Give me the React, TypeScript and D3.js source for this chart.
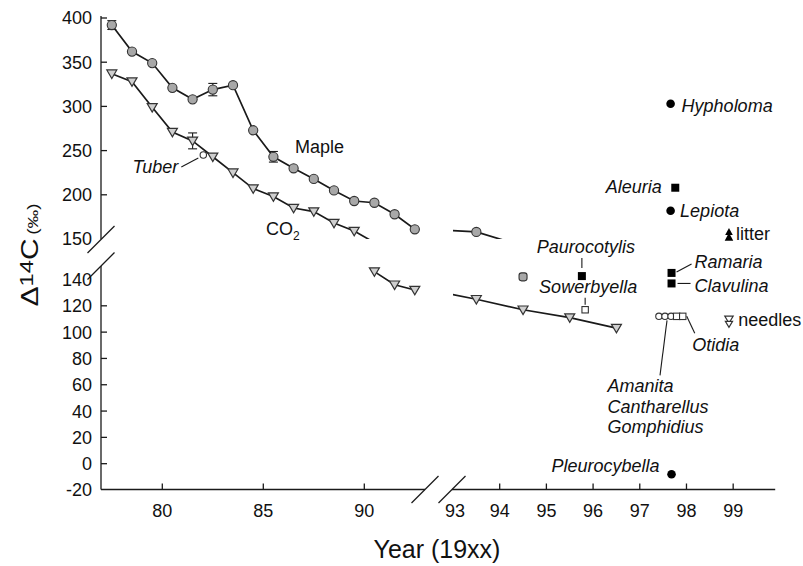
import React from 'react';
import * as d3 from 'd3';

// ---------- DATA ----------
const mapleYears = [77.5, 78.5, 79.5, 80.5, 81.5, 82.5, 83.5, 84.5, 85.5, 86.5, 87.5, 88.5, 89.5, 90.5, 91.5, 92.5, 93.5, 94.5];
const mapleValues = [392, 362, 349, 321, 308, 319, 324, 273, 243, 230, 218, 205, 193, 191, 178, 161, 158, 142];
const mapleErrors = [5, 0, 0, 0, 0, 7, 0, 0, 6, 0, 0, 0, 0, 0, 0, 0, 0, 0];

const co2Years = [77.5, 78.5, 79.5, 80.5, 81.5, 82.5, 83.5, 84.5, 85.5, 86.5, 87.5, 88.5, 89.5, 90.5, 91.5, 92.5, 93.5, 94.5, 95.5, 96.5];
const co2Values = [337, 328, 299, 271, 261, 243, 225, 207, 198, 185, 181, 168, 159, 146, 136, 132, 125, 117, 111, 103];
const co2Errors = [0, 0, 0, 0, 9, 0, 0, 0, 0, 0, 0, 0, 0, 0, 0, 0, 0, 0, 0, 0];

const specimenNames = ['Hypholoma', 'Aleuria', 'Lepiota', 'litter', 'Paurocotylis', 'Sowerbyella', 'Ramaria', 'Clavulina', 'Amanita', 'Cantharellus', 'Gomphidius', 'Otidia', 'Otidia2', 'needles', 'Pleurocybella', 'Tuber'];
const specimenYears = [97.66, 97.76, 97.66, 98.91, 95.76, 95.83, 97.68, 97.68, 97.41, 97.54, 97.67, 97.79, 97.92, 98.91, 97.68, 82.03];
const specimenValues = [303, 208, 182, 155, 142.6, 117, 145, 137, 112, 112, 112, 112, 112, 108, -8, 245];
const specimenKinds = ['dot', 'square', 'dot', 'litter', 'square', 'openSquare', 'square', 'square', 'openCircle', 'openCircle', 'openCircle', 'openSquare', 'openSquare', 'needles', 'dot', 'openCircle'];

const yTicksUpper = [150, 200, 250, 300, 350, 400];
const yTicksLower = [-20, 0, 20, 40, 60, 80, 100, 120, 140];
const xTicksLeft = [80, 85, 90];
const xTicksRight = [93, 94, 95, 96, 97, 98, 99];

// ---------- LAYOUT ----------
const W = 803, H = 566;
const FONT = "'Liberation Sans', Arial, Helvetica, sans-serif";
const X_BREAK = 93;
const Y_SPLIT = 148;

const xL = d3.scaleLinear().domain([77, 93]).range([101.7, 424.9]);
const xR = d3.scaleLinear().domain([93, 99.9]).range([453, 775.2]);
const yU = d3.scaleLinear().domain([150, 400]).range([239, 18]);
const yLo = d3.scaleLinear().domain([-20, 140]).range([490, 279.5]);

const px = (yr: number) => (yr < X_BREAK ? xL(yr) : xR(yr));
const py = (v: number) => (v >= Y_SPLIT ? yU(v) : yLo(v));

type Pt = { year: number; value: number; err: number };
const maple: Pt[] = mapleYears.map((y, i) => ({ year: y, value: mapleValues[i], err: mapleErrors[i] }));
const co2: Pt[] = co2Years.map((y, i) => ({ year: y, value: co2Values[i], err: co2Errors[i] }));

const AX = 101; // y axis x
const AY = 489.5; // x axis y

const panels = [
  { id: 'UL', x: xL, y: yU, clip: { x0: 95, x1: xL(92.5) + 1, y0: 0, y1: yU(150) } },
  { id: 'UR', x: xR, y: yU, clip: { x0: xR(93), x1: 800, y0: 0, y1: yU(150) } },
  { id: 'LL', x: xL, y: yLo, clip: { x0: 95, x1: xL(92.5) + 1, y0: yLo(147), y1: 500 } },
  { id: 'LR', x: xR, y: yLo, clip: { x0: xR(93), x1: 800, y0: yLo(147), y1: 500 } },
];

// label layout relative to specimen markers
const labels = [
  { ref: 'Hypholoma', text: 'Hypholoma', dx: 11, dy: 8, anchor: 'start', italic: true },
  { ref: 'Aleuria', text: 'Aleuria', dx: -13.5, dy: 5.6, anchor: 'end', italic: true },
  { ref: 'Lepiota', text: 'Lepiota', dx: 9.5, dy: 6, anchor: 'start', italic: true },
  { ref: 'litter', text: 'litter', dx: 7, dy: 5.5, anchor: 'start', italic: false },
  { ref: 'Paurocotylis', text: 'Paurocotylis', dx: 4, dy: -23, anchor: 'middle', italic: true, leader: [0, -18, 0, -8] },
  { ref: 'Sowerbyella', text: 'Sowerbyella', dx: 3, dy: -16.5, anchor: 'middle', italic: true, leader: [0, -12, 0, -5] },
  { ref: 'Ramaria', text: 'Ramaria', dx: 23, dy: -5, anchor: 'start', italic: true, leader: [5, -1, 20, -9] },
  { ref: 'Clavulina', text: 'Clavulina', dx: 23, dy: 8.3, anchor: 'start', italic: true, leader: [6, 0, 19, 0] },
  { ref: 'Cantharellus', text: 'Amanita', dx: -57.5, dy: 75.3, anchor: 'start', italic: true, leader: [2, 4, -5, 59] },
  { ref: 'Cantharellus', text: 'Cantharellus', dx: -57.5, dy: 96.9, anchor: 'start', italic: true },
  { ref: 'Cantharellus', text: 'Gomphidius', dx: -57.5, dy: 116.9, anchor: 'start', italic: true },
  { ref: 'Otidia2', text: 'Otidia', dx: 9.4, dy: 34.6, anchor: 'start', italic: true, leader: [4, 0, 12, 17] },
  { ref: 'needles', text: 'needles', dx: 9.3, dy: 4.5, anchor: 'start', italic: false },
  { ref: 'Pleurocybella', text: 'Pleurocybella', dx: -12, dy: -2.5, anchor: 'end', italic: true },
  { ref: 'Tuber', text: 'Tuber', dx: -25, dy: 18.3, anchor: 'end', italic: true, leader: [-22, 12, -5, 3] },
];

const TEXT = '#111';
const LINE = '#1a1a1a';
const CIRCLE_FILL = '#a8a8a8';
const TRI_FILL = '#cfcfcf';
const MARK_STROKE = '#333';

function triDown(cx: number, cy: number, s = 5) {
  return `M${cx - s},${cy - s * 0.75}L${cx + s},${cy - s * 0.75}L${cx},${cy + s * 0.95}Z`;
}
function triUp(cx: number, cy: number, s = 4) {
  return `M${cx - s},${cy + s * 0.8}L${cx + s},${cy + s * 0.8}L${cx},${cy - s * 1.1}Z`;
}

function Specimen({ kind, x, y }: { kind: string; x: number; y: number }) {
  switch (kind) {
    case 'dot':
      return <circle cx={x} cy={y} r={4.3} fill="#000" />;
    case 'square':
      return <rect x={x - 4} y={y - 4} width={8} height={8} fill="#000" />;
    case 'openSquare':
      return <rect x={x - 3.2} y={y - 3.2} width={6.4} height={6.4} fill="#fff" stroke="#333" strokeWidth={1.1} />;
    case 'openCircle':
      return <circle cx={x} cy={y} r={3.2} fill="#fff" stroke="#333" strokeWidth={1.1} />;
    case 'litter':
      return (
        <g fill="#000">
          <path d={triUp(x, y - 2.5, 3.8)} />
          <path d={triUp(x, y + 2.8, 4.3)} />
        </g>
      );
    case 'needles':
      return (
        <g fill="#fff" stroke="#333" strokeWidth={1.2}>
          <path d={triDown(x, y - 2.4, 4.2)} />
          <path d={triDown(x, y + 2.4, 3.6)} />
        </g>
      );
    default:
      return null;
  }
}

export default function App() {
  const lineGen = (p: typeof panels[number]) =>
    d3.line<Pt>().x((d) => p.x(d.year)).y((d) => p.y(d.value));

  const specimenPos: Record<string, [number, number]> = {};
  specimenNames.forEach((n, i) => {
    specimenPos[n] = [px(specimenYears[i]), py(specimenValues[i])];
  });

  const slash = (cx: number, cy: number, key: string) => (
    <line key={key} x1={cx - 13.5} y1={cy + 13.5} x2={cx + 13.5} y2={cy - 13.5} stroke={LINE} strokeWidth={1.3} />
  );

  const errBar = (d: Pt, key: string) => {
    if (!d.err) return null;
    const x = px(d.year);
    const y1 = py(d.value - d.err);
    const y2 = py(d.value + d.err);
    return (
      <g key={key} stroke={LINE} strokeWidth={1.1}>
        <line x1={x} x2={x} y1={y1} y2={y2} />
        <line x1={x - 4.5} x2={x + 4.5} y1={y1} y2={y1} />
        <line x1={x - 4.5} x2={x + 4.5} y1={y2} y2={y2} />
      </g>
    );
  };

  return (
    <svg width={W} height={H} style={{ position: 'absolute', left: 0, top: 0, background: '#fff' }} fontFamily={FONT}>
      <rect x={0} y={0} width={W} height={H} fill="#fff" />
      <defs>
        {panels.map((p) => (
          <clipPath id={`clip-${p.id}`} key={p.id}>
            <rect x={p.clip.x0} y={p.clip.y0} width={p.clip.x1 - p.clip.x0} height={p.clip.y1 - p.clip.y0} />
          </clipPath>
        ))}
      </defs>

      {/* axes */}
      <g stroke={LINE} strokeWidth={1.3} fill="none">
        <line x1={AX} x2={AX} y1={16} y2={yU(150)} />
        <line x1={AX} x2={AX} y1={266} y2={AY} />
        <line x1={AX} x2={425} y1={AY} y2={AY} />
        <line x1={452} x2={xR(99.9)} y1={AY} y2={AY} />
        {yTicksUpper.filter((t) => t !== 150).map((t) => (
          <line key={`yu${t}`} x1={AX} x2={AX + 6} y1={yU(t)} y2={yU(t)} />
        ))}
        {yTicksLower.filter((t) => t !== 140 && t !== -20).map((t) => (
          <line key={`yl${t}`} x1={AX} x2={AX + 6} y1={yLo(t)} y2={yLo(t)} />
        ))}
        {xTicksLeft.map((t) => (
          <line key={`xl${t}`} x1={xL(t)} x2={xL(t)} y1={AY} y2={AY - 6} />
        ))}
        {xTicksRight.filter((t) => t !== 93).map((t) => (
          <line key={`xr${t}`} x1={xR(t)} x2={xR(t)} y1={AY} y2={AY - 6} />
        ))}
        {slash(AX, yU(150) + 0.5, 's1')}
        {slash(AX, 266, 's2')}
        {slash(425, AY, 's3')}
        {slash(452, AY, 's4')}
      </g>

      {/* tick labels */}
      <g fontSize={18} fill={TEXT} textAnchor="end">
        {yTicksUpper.map((t) => (
          <text key={`tyu${t}`} x={92} y={yU(t)} dy="0.36em">{t}</text>
        ))}
        {yTicksLower.map((t) => (
          <text key={`tyl${t}`} x={92} y={yLo(t)} dy="0.36em">{t}</text>
        ))}
      </g>
      <g fontSize={18} fill={TEXT} textAnchor="middle">
        {xTicksLeft.map((t) => (
          <text key={`txl${t}`} x={xL(t)} y={517}>{t}</text>
        ))}
        {xTicksRight.map((t) => (
          <text key={`txr${t}`} x={xR(t) + (t === 93 ? 2 : 0)} y={517}>{t}</text>
        ))}
      </g>

      {/* axis titles */}
      <text x={437} y={558} fontSize={25} textAnchor="middle" fill={TEXT}>Year (19xx)</text>
      <g transform="translate(38,255) rotate(-90) scale(1.25,1)">
        <text textAnchor="middle" fill={TEXT} fontSize={24}>
          <tspan>Δ</tspan>
          <tspan fontSize={19} dy={-5}>14</tspan>
          <tspan dy={5}>C</tspan>
          <tspan fontSize={15} dx={3}>(‰)</tspan>
        </text>
      </g>

      {/* series lines */}
      {panels.map((p) => (
        <g key={`lines-${p.id}`} clipPath={`url(#clip-${p.id})`} fill="none" stroke={LINE} strokeWidth={1.7}>
          {(p.id === 'UL' || p.id === 'UR') && <path d={lineGen(p)(maple) || ''} />}
          <path d={lineGen(p)(co2) || ''} />
        </g>
      ))}

      {/* error bars */}
      {maple.map((d, i) => errBar(d, `me${i}`))}
      {co2.map((d, i) => errBar(d, `ce${i}`))}

      {/* markers */}
      {co2.map((d, i) => (
        <path key={`c${i}`} d={triDown(px(d.year), py(d.value), 5)} fill={TRI_FILL} stroke={MARK_STROKE} strokeWidth={1.2} />
      ))}
      {maple.map((d, i) =>
        d.value >= Y_SPLIT ? (
          <circle key={`m${i}`} cx={px(d.year)} cy={py(d.value)} r={4.6} fill={CIRCLE_FILL} stroke={MARK_STROKE} strokeWidth={1.1} />
        ) : (
          <rect key={`m${i}`} x={px(d.year) - 4} y={py(d.value) - 4} width={8} height={8} rx={2.5} fill={CIRCLE_FILL} stroke={MARK_STROKE} strokeWidth={1.1} />
        )
      )}

      {/* series labels */}
      <text x={xL(85.5) + 21.7} y={yU(243) - 4} fontSize={18} fill={TEXT}>Maple</text>
      <text x={xL(86.5) - 27.6} y={yU(185) + 26.7} fontSize={18} fill={TEXT}>
        CO<tspan fontSize={12} dy={5}>2</tspan>
      </text>

      {/* specimens */}
      {specimenNames.map((n, i) => (
        <Specimen key={`sp${i}`} kind={specimenKinds[i]} x={specimenPos[n][0]} y={specimenPos[n][1]} />
      ))}

      {/* specimen labels */}
      {labels.map((l, i) => {
        const [x, y] = specimenPos[l.ref];
        return (
          <g key={`lab${i}`}>
            {l.leader && (
              <line x1={x + l.leader[0]} y1={y + l.leader[1]} x2={x + l.leader[2]} y2={y + l.leader[3]} stroke={LINE} strokeWidth={1.1} />
            )}
            <text x={x + l.dx} y={y + l.dy} fontSize={18} fontStyle={l.italic ? 'italic' : 'normal'} textAnchor={l.anchor} fill={TEXT}>
              {l.text}
            </text>
          </g>
        );
      })}
    </svg>
  );
}
